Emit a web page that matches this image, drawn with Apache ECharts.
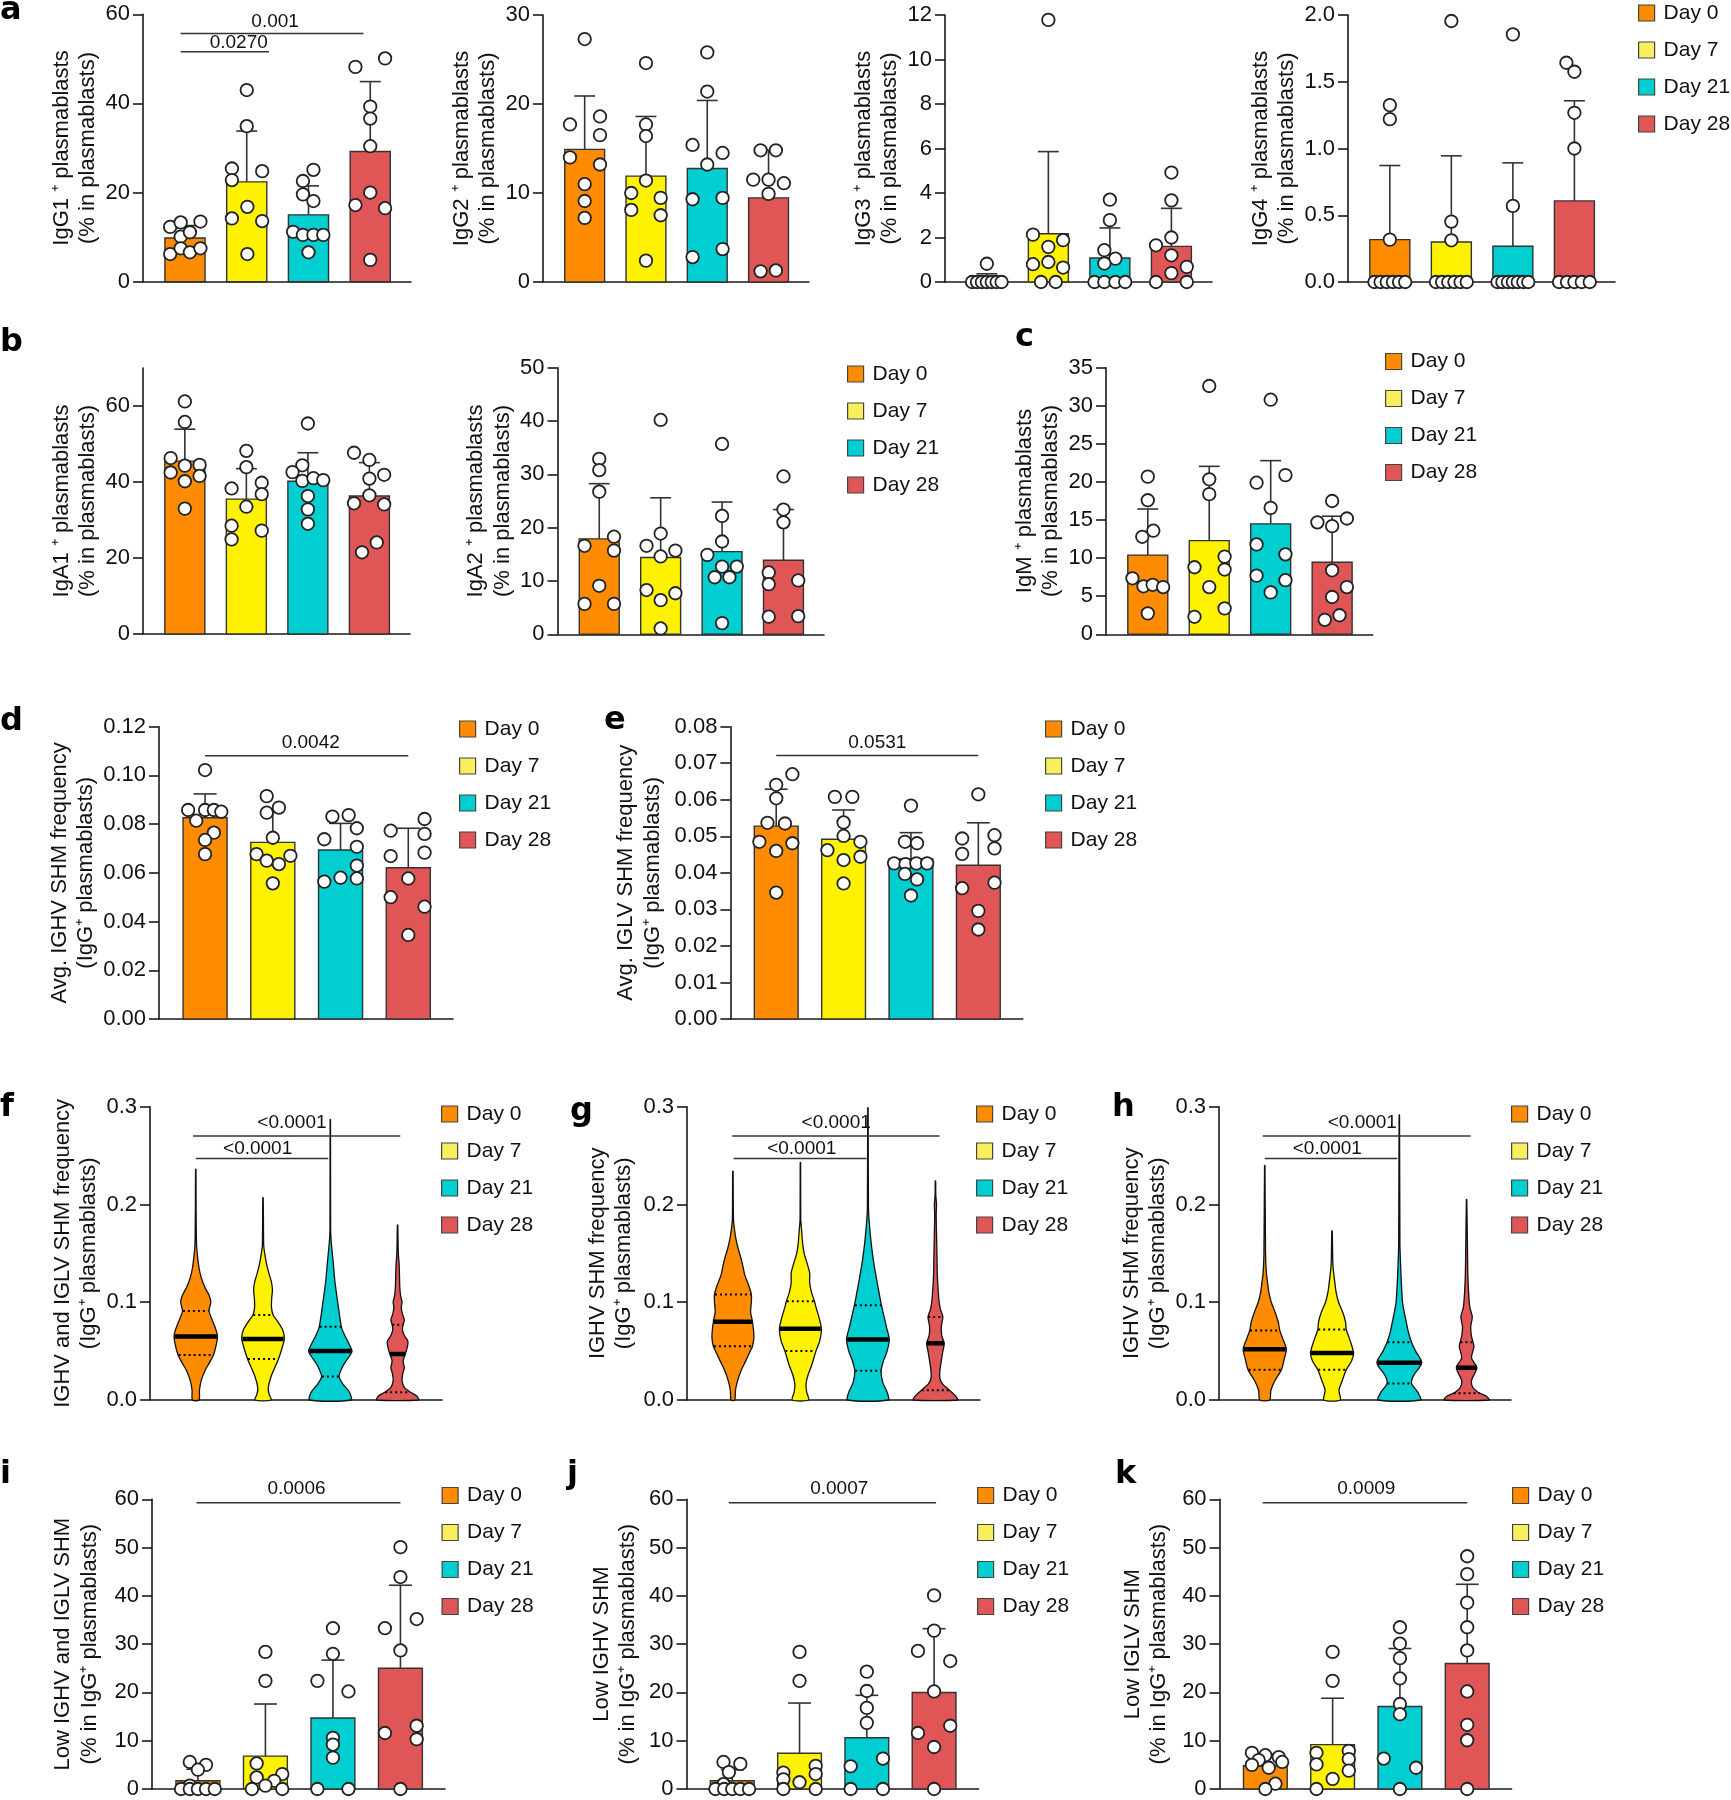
<!DOCTYPE html>
<html><head><meta charset="utf-8">
<script src="https://cdn.jsdelivr.net/npm/echarts@6/dist/echarts.min.js"></script>
<style>html,body{margin:0;padding:0;background:#fff}#c{width:1731px;height:1800px}</style>
</head><body><div id="c"></div>
<script>
// ---------------- DATA ----------------
const DAYS = ['Day 0', 'Day 7', 'Day 21', 'Day 28'];

// a: IgG1
const IGG1_MEAN = [9.8, 22.4, 15.0, 29.2];
const IGG1_SD = [12.6, 33.8, 21.5, 44.9];
const IGG1_PTS = [[12.3,13.3,13.5,10.1,11.1,6.2,7.5,6.6,7.5],[43.0,34.9,25.4,24.8,22.8,16.8,14.2,13.6,6.2],[25.1,22.6,19.6,18.1,11.2,10.5,10.5,10.5,6.6],[48.2,50.1,39.3,36.6,30.4,20.0,17.2,16.5,4.9]];
const IGG1_JIT = [[-0.24,-0.07,0.25,-0.07,0.08,-0.24,-0.07,0.08,0.25],[0,0,-0.24,0.25,-0.24,0.01,-0.24,0.25,0.01],[0.08,-0.09,-0.09,0.08,-0.25,-0.09,0.08,0.24,0],[-0.24,0.24,0,0,0,0,-0.24,0.24,0]];
// [x from, x to, line value, label, label x, label value]
const IGG1_SIG = [[-0.07, 1.36, 51.6, '0.0270', 0.87, 53.6], [-0.07, 2.89, 55.7, '0.001', 1.46, 58.4]];
const IGG1_TICKS = [0, 20, 40, 60];
// IgG2
const IGG2_MEAN = [14.9, 11.9, 12.75, 9.45];
const IGG2_SD = [20.9, 18.6, 20.4, 14.8];
const IGG2_PTS = [[27.3,17.7,18.6,16.5,14.0,13.2,11.0,9.1,7.2],[24.6,17.7,16.4,11.4,10.0,9.45,8.1,7.5,2.4],[25.8,21.4,15.4,14.5,13.2,9.3,9.45,3.7,2.8],[14.8,14.8,11.5,11.5,11.1,9.9,1.2,1.3]];
const IGG2_JIT = [[0,-0.24,0.25,0.25,-0.24,0.25,0,0,0],[0,0,0,0,-0.24,0.24,-0.24,0.24,0],[0,0,-0.24,0.25,0,-0.24,0.25,0.25,-0.24],[-0.13,0.12,-0.25,0,0.25,0,-0.13,0.12]];
const IGG2_TICKS = [0, 10, 20, 30];
// IgG3
const IGG3_MEAN = [0.1, 2.17, 1.08, 1.6];
const IGG3_SD = [0.37, 5.86, 2.43, 3.31];
const IGG3_PTS = [[0.82,0,0,0,0,0,0,0],[11.78,2.13,1.88,1.58,0.9,0.8,0.65,0,0],[3.7,2.78,1.43,1.05,0.83,0,0,0,0],[4.92,3.67,2.0,1.65,1.2,0.68,0.4,0,0]];
const IGG3_JIT = [[0,-0.24,-0.16,-0.08,0,0.08,0.16,0.24],[0,-0.25,0.24,0,0,-0.25,0.24,-0.12,0.12],[0,0,-0.09,0.09,-0.09,-0.25,-0.09,0.09,0.25],[0,0,0,-0.25,0,0.25,0,-0.25,0.25]];
const IGG3_TICKS = [0, 2, 4, 6, 8, 10, 12];
// IgG4
const IGG4_MEAN = [0.3175, 0.30, 0.2675, 0.6075];
const IGG4_SD = [0.8725, 0.945, 0.8925, 1.3575];
const IGG4_PTS = [[1.325,1.22,0.3175,0,0,0,0,0,0],[1.955,0.4525,0.3125,0,0,0,0,0,0],[1.855,0.57,0,0,0,0,0,0,0],[1.6425,1.575,1.2675,1.0,0,0,0,0,0]];
const IGG4_JIT = [[0,0,0,-0.25,-0.15,-0.05,0.05,0.15,0.25],[0,0,0,-0.25,-0.15,-0.05,0.05,0.15,0.25],[0,0,-0.25,-0.17,-0.08,0,0.08,0.17,0.25],[-0.13,0,0,0,-0.25,-0.12,0,0.12,0.25]];
const IGG4_TICKS = [0, 0.5, 1, 1.5, 2];
// b: IgA1
const IGA1_MEAN = [45.5, 35.5, 40.2, 36.3];
const IGA1_SD = [53.9, 43.5, 47.7, 45.1];
const IGA1_PTS = [[61.2,55.8,46.3,44.5,44.3,42.5,41.6,40.2,33.0],[48.2,43.9,38.3,39.8,36.8,33.5,28.5,27.2,24.9],[55.4,44.4,42.6,40.3,41.0,40.5,36.3,32.8,29.0],[47.7,45.8,40.9,41.9,36.5,34.4,34.1,24.1,21.5]];
const IGA1_JIT = [[0,0,-0.23,0.24,0,-0.23,0.24,0,0],[0,0,-0.24,0.25,0.25,0,-0.24,0.25,-0.24],[0,-0.09,-0.25,-0.09,0.09,0.25,0,0,0],[-0.25,0,0,0.24,0,-0.25,0.24,0.12,-0.12]];
const IGA1_TICKS = [0, 20, 40, 60];
// IgA2
const IGA2_MEAN = [17.9, 14.4, 15.5, 13.9];
const IGA2_SD = [28.25, 25.6, 24.8, 23.4];
const IGA2_PTS = [[32.9,30.8,26.75,16.6,18.3,15.7,9.1,5.7,5.7],[40.2,18.9,16.6,15.7,14.6,8.3,7.7,6.4,1.1],[35.7,22.2,17.4,14.9,12.7,12.7,10.7,10.7,2.1],[29.6,23.4,21.0,11.6,9.4,10.1,3.3,3.4]];
const IGA2_JIT = [[0,0,0,-0.24,0.24,0.24,0,-0.24,0.24],[0,0,-0.23,0.24,0,-0.23,0.24,0,0],[0,0,0,-0.24,0,0.24,-0.12,0.12,0],[0,0,0,-0.24,-0.24,0.24,-0.24,0.24]];
const IGA2_TICKS = [0, 10, 20, 30, 40, 50];
// c: IgM
const IGM_MEAN = [10.4, 12.3, 14.5, 9.45];
const IGM_SD = [16.45, 22.05, 22.8, 15.5];
const IGM_PTS = [[20.7,17.6,13.6,12.8,7.35,6.3,6.5,6.2,2.75],[32.6,20.35,18.4,10.2,8.5,8.8,6.2,3.4,2.3],[30.8,19.9,20.9,16.6,11.8,10.5,7.7,7.1,5.5],[17.5,14.7,15.2,14.2,8.4,6.2,4.9,2.5,1.9]];
const IGM_JIT = [[0,0,0.09,-0.09,-0.25,-0.07,0.08,0.25,0],[0,0,0,0.25,0.25,-0.24,0,0.25,-0.24],[0,-0.23,0.24,0,-0.23,0.24,-0.23,0.24,0],[0,-0.24,0.24,0,0,0.24,0,0.12,-0.12]];
const IGM_TICKS = [0, 5, 10, 15, 20, 25, 30, 35];
// d: avg IGHV SHM
const SHMH_MEAN = [0.0826, 0.0725, 0.0694, 0.0621];
const SHMH_SD = [0.0924, 0.0863, 0.0803, 0.0783];
const SHMH_PTS = [[0.1022,0.0858,0.0858,0.0858,0.0851,0.0814,0.0765,0.0735,0.0677],[0.0915,0.0868,0.0847,0.0744,0.0677,0.065,0.067,0.0636,0.0557],[0.0831,0.0837,0.0783,0.0738,0.0707,0.063,0.0564,0.058,0.0577],[0.0773,0.0821,0.076,0.0669,0.0683,0.0577,0.05,0.0461,0.0345]];
const SHMH_JIT = [[0,-0.25,0,0.13,0.24,-0.13,0.13,0,0],[-0.09,0.09,-0.09,0,-0.24,-0.09,0.26,0.09,0],[-0.12,0.12,0.24,-0.24,0.24,0.24,-0.24,0,0.24],[-0.26,0.24,0.24,-0.26,0.24,0,-0.26,0.24,0]];
const SHMH_SIG = [[0, 3, 0.1081, '0.0042', 1.56, 0.1133]];
const SHMH_TICKS = [0, 0.02, 0.04, 0.06, 0.08, 0.10, 0.12];
// e: avg IGLV SHM
const SHML_MEAN = [0.0528, 0.0492, 0.0438, 0.0421];
const SHML_SD = [0.0629, 0.0572, 0.051, 0.0537];
const SHML_PTS = [[0.067,0.0641,0.0604,0.0537,0.0535,0.0485,0.0481,0.046,0.0346],[0.0608,0.0608,0.0538,0.0501,0.0485,0.0462,0.0435,0.0444,0.0371],[0.0584,0.0485,0.0481,0.0426,0.0424,0.0426,0.0426,0.0397,0.0382,0.0338],[0.0615,0.0494,0.0503,0.0467,0.0452,0.0373,0.0358,0.0296,0.0245]];
const SHML_JIT = [[0.24,0,0,-0.13,0.13,-0.25,0.24,0,0],[-0.13,0.13,0,0,0.25,-0.24,0,0.25,0],[0,-0.09,0.09,-0.25,-0.08,0.08,0.24,-0.09,0.09,0],[0,-0.24,0.24,0.24,-0.24,0.24,-0.24,0,0]];
const SHML_SIG = [[0, 3, 0.0721, '0.0531', 1.5, 0.0755]];
const SHML_TICKS = [0, 0.01, 0.02, 0.03, 0.04, 0.05, 0.06, 0.07, 0.08];
// f, g, h: violins  [value, half width in category units]
const VF_PROFILE = [
  [[0,0.049],[0.01,0.055],[0.02,0.082],[0.03,0.137],[0.04,0.219],[0.046,0.263],[0.055,0.3],[0.065,0.323],[0.072,0.3],[0.08,0.255],[0.091,0.197],[0.1,0.224],[0.107,0.2],[0.115,0.137],[0.125,0.082],[0.135,0.049],[0.15,0.022],[0.16,0.011],[0.2,0.005],[0.236,0.003]],
  [[0,0.12],[0.006,0.09],[0.012,0.077],[0.024,0.12],[0.042,0.23],[0.055,0.29],[0.063,0.317],[0.072,0.29],[0.08,0.22],[0.087,0.15],[0.095,0.125],[0.105,0.13],[0.113,0.14],[0.122,0.12],[0.13,0.085],[0.14,0.05],[0.15,0.025],[0.158,0.01],[0.207,0.003]],
  [[0,0.307],[0.008,0.285],[0.016,0.19],[0.024,0.13],[0.035,0.19],[0.045,0.285],[0.05,0.323],[0.058,0.274],[0.067,0.208],[0.075,0.164],[0.09,0.13],[0.1,0.11],[0.12,0.07],[0.14,0.044],[0.16,0.016],[0.175,0.005],[0.287,0.003]],
  [[0,0.312],[0.004,0.285],[0.008,0.19],[0.013,0.1],[0.02,0.066],[0.027,0.077],[0.033,0.1],[0.04,0.082],[0.047,0.115],[0.055,0.148],[0.06,0.153],[0.066,0.1],[0.072,0.071],[0.077,0.082],[0.082,0.1],[0.088,0.071],[0.095,0.055],[0.1,0.066],[0.107,0.044],[0.115,0.033],[0.13,0.027],[0.14,0.022],[0.15,0.011],[0.179,0.003]]
];
const VF_QUART = [[0.046,0.065,0.091],[0.042,0.0625,0.087],[0.024,0.050,0.075],[0.008,0.047,0.077]];
const VF_SIG = [[0, 1.97, 0.247, '<0.0001', 0.92, 0.2567], [-0.04, 3.04, 0.27, '<0.0001', 1.43, 0.2833]];
const VG_PROFILE = [
  [[0,0.027],[0.01,0.038],[0.02,0.071],[0.03,0.12],[0.04,0.19],[0.05,0.257],[0.055,0.29],[0.065,0.311],[0.08,0.29],[0.09,0.262],[0.1,0.273],[0.108,0.273],[0.118,0.23],[0.128,0.175],[0.137,0.148],[0.145,0.12],[0.155,0.077],[0.165,0.044],[0.175,0.022],[0.185,0.008],[0.234,0.003]],
  [[0,0.12],[0.008,0.093],[0.016,0.082],[0.025,0.11],[0.035,0.164],[0.05,0.23],[0.06,0.284],[0.073,0.311],[0.085,0.273],[0.095,0.23],[0.101,0.208],[0.11,0.164],[0.12,0.137],[0.13,0.137],[0.14,0.098],[0.15,0.055],[0.16,0.033],[0.175,0.016],[0.185,0.005],[0.243,0.003]],
  [[0,0.3],[0.008,0.284],[0.018,0.219],[0.03,0.195],[0.04,0.23],[0.05,0.284],[0.062,0.317],[0.075,0.273],[0.085,0.24],[0.097,0.2],[0.11,0.164],[0.12,0.137],[0.14,0.087],[0.16,0.049],[0.18,0.022],[0.195,0.008],[0.299,0.003]],
  [[0,0.328],[0.004,0.3],[0.01,0.208],[0.016,0.11],[0.022,0.066],[0.03,0.066],[0.04,0.087],[0.05,0.11],[0.058,0.131],[0.066,0.093],[0.075,0.087],[0.085,0.11],[0.092,0.077],[0.1,0.055],[0.115,0.038],[0.13,0.027],[0.15,0.022],[0.17,0.016],[0.19,0.011],[0.2,0.016],[0.21,0.005],[0.224,0.003]]
];
const VG_QUART = [[0.055,0.080,0.108],[0.050,0.073,0.101],[0.030,0.062,0.097],[0.010,0.058,0.085]];
const VG_SIG = [[0.01, 1.98, 0.247, '<0.0001', 1.02, 0.2567], [-0.01, 3.06, 0.27, '<0.0001', 1.53, 0.2833]];
const VH_PROFILE = [
  [[0,0.073],[0.01,0.091],[0.02,0.152],[0.031,0.248],[0.042,0.29],[0.052,0.321],[0.062,0.273],[0.071,0.224],[0.08,0.2],[0.09,0.152],[0.1,0.097],[0.11,0.061],[0.12,0.042],[0.13,0.024],[0.15,0.012],[0.24,0.003]],
  [[0,0.121],[0.01,0.103],[0.02,0.152],[0.031,0.212],[0.04,0.29],[0.048,0.321],[0.06,0.273],[0.072,0.212],[0.08,0.2],[0.09,0.158],[0.1,0.097],[0.11,0.061],[0.12,0.042],[0.13,0.024],[0.14,0.012],[0.173,0.003]],
  [[0,0.315],[0.008,0.273],[0.017,0.182],[0.025,0.212],[0.038,0.333],[0.05,0.242],[0.059,0.182],[0.07,0.133],[0.08,0.103],[0.09,0.073],[0.1,0.048],[0.12,0.03],[0.14,0.018],[0.16,0.009],[0.2915,0.003]],
  [[0,0.333],[0.004,0.29],[0.008,0.17],[0.013,0.091],[0.02,0.073],[0.033,0.152],[0.043,0.073],[0.055,0.109],[0.065,0.073],[0.075,0.061],[0.085,0.085],[0.095,0.048],[0.11,0.03],[0.13,0.018],[0.16,0.012],[0.205,0.003]]
];
const VH_QUART = [[0.031,0.052,0.071],[0.031,0.048,0.072],[0.017,0.038,0.059],[0.007,0.033,0.059]];
const VH_SIG = [[0, 1.97, 0.247, '<0.0001', 0.93, 0.2567], [-0.03, 3.06, 0.27, '<0.0001', 1.45, 0.2833]];
const VIOLIN_TICKS = [0, 0.1, 0.2, 0.3];
// i: low IGHV and IGLV SHM
const LOWHL_MEAN = [1.7, 6.8, 14.7, 25.0];
const LOWHL_SD = [4.1, 17.6, 26.7, 42.2];
const LOWHL_PTS = [[5.6,5.0,4.0,0.7,0,0,0,0,0],[28.4,22.4,5.3,3.1,2.4,1.7,0.7,0,0],[33.3,28.0,22.4,20.2,10.6,9.2,6.5,0,0],[50.1,43.9,33.3,35.2,28.7,11.6,13.1,10.3,0]];
const LOWHL_JIT = [[-0.12,0.12,0,-0.12,-0.25,-0.12,0,0.12,0.25],[0,0,-0.13,0.25,-0.13,0.13,0,-0.2,0.25],[0,0,-0.23,0.23,0,0,0,-0.23,0.23],[0,0,-0.23,0.24,0,-0.23,0.24,0.24,0]];
const LOWHL_SIG = [[-0.02, 3.0, 59.3, '0.0006', 1.46, 62.1]];
// j: low IGHV SHM
const LOWH_MEAN = [1.7, 7.4, 10.6, 20.0];
const LOWH_SD = [4.0, 17.8, 19.4, 33.2];
const LOWH_PTS = [[5.6,5.2,3.5,1.0,0,0,0,0,0],[28.4,22.4,4.8,3.4,3.1,2.0,1.4,0,0],[24.3,20.3,16.8,13.7,6.3,4.7,0,0],[40.1,32.8,28.6,26.5,20.2,11.6,13.1,8.7,0]];
const LOWH_JIT = [[-0.13,0.12,-0.05,-0.13,-0.25,-0.12,0,0.12,0.25],[0,0,0.24,-0.24,0.24,-0.24,0,-0.24,0.24],[0,0,0,0,0.24,-0.24,-0.24,0.24],[0,0,-0.24,0.24,0,-0.24,0.24,0,0]];
const LOWH_SIG = [[-0.05, 3.03, 59.3, '0.0007', 1.59, 62.1]];
// k: low IGLV SHM
const LOWL_MEAN = [4.8, 9.2, 17.1, 26.0];
const LOWL_SD = [7.2, 18.8, 29.1, 42.4];
const LOWL_PTS = [[7.5,7.0,6.6,6.0,5.6,5.0,4.4,1.1,0],[28.4,22.4,7.9,7.5,6.2,5.1,3.8,2.1,0],[33.5,30.1,27.1,22.9,17.6,15.5,6.3,4.4,0],[48.2,44.5,38.6,33.5,28.7,20.2,13.3,10.1,0]];
const LOWL_JIT = [[-0.2,0,0.2,-0.1,0.25,-0.2,0.05,0.15,0],[0,0,0.24,-0.24,0.24,-0.24,0.24,0,-0.24],[0,0,0,0,0,0,-0.24,0.24,0],[0,0,0,0,0,0,0,0,0]];
const LOWL_SIG = [[-0.04, 3.0, 59.3, '0.0009', 1.5, 62.1]];
const LOW_TICKS = [0, 10, 20, 30, 40, 50, 60];

// ---------------- STYLE / LAYOUT ----------------
const FONT = '"Liberation Sans", Arial, Helvetica, sans-serif';
const FILL = ['#FF8C00', '#FFF200', '#00CED1', '#E05656'];
const LEGEND_FILL = ['#FF8C00', '#F8EF5E', '#00CED1', '#E05656'];
const INK = '#1a1a1a';
const X_MIN = -0.68, X_MAX = 3.66;
const BAR_HALF = 0.325, CAP_HALF = 0.17;

const grids = [], xAxes = [], yAxes = [], series = [], legends = [], graphics = [];

function addAxes(p) {
  const gi = grids.length;
  grids.push({left: p.rect[0], top: p.rect[1], width: p.rect[2], height: p.rect[3], containLabel: false});
  xAxes.push({gridIndex: gi, type: 'value', min: X_MIN, max: X_MAX,
    axisLine: {onZero: false, lineStyle: {color: INK, width: 1.6}},
    axisTick: {show: false}, axisLabel: {show: false}, splitLine: {show: false}});
  yAxes.push({gridIndex: gi, type: 'value', min: 0, max: p.max, interval: p.ticks[1] - p.ticks[0],
    axisLine: {show: true, onZero: false, lineStyle: {color: INK, width: 1.6}},
    axisTick: {show: true, length: 10, customValues: p.ticks, lineStyle: {color: INK, width: 1.6}},
    axisLabel: {show: true, fontSize: 22, color: '#111', fontFamily: FONT, margin: 13, customValues: p.ticks,
      formatter: v => p.dec != null ? Number(v).toFixed(p.dec) : String(v)},
    splitLine: {show: false},
    name: p.name, nameLocation: 'middle', nameGap: p.gap - 3,
    nameTextStyle: {fontSize: 22, lineHeight: 26.5, color: '#111', fontFamily: FONT, align: 'center', verticalAlign: 'middle'}});
  return gi;
}

function barPanel(gi, mean, sd, pts, jit) {
  series.push({type: 'custom', xAxisIndex: gi, yAxisIndex: gi, z: 2, clip: false,
    data: mean.map((m, i) => [i, m]),
    renderItem(params, api) {
      const i = api.value(0), m = api.value(1);
      const p1 = api.coord([i - BAR_HALF, m]), p2 = api.coord([i + BAR_HALF, 0]);
      return {type: 'rect', shape: {x: p1[0], y: p1[1], width: p2[0] - p1[0], height: p2[1] - p1[1]},
        style: {fill: FILL[i], stroke: '#333', lineWidth: 1.4}};
    }});
  series.push({type: 'custom', xAxisIndex: gi, yAxisIndex: gi, z: 3, clip: false,
    data: sd.map((s, i) => [i, mean[i], s]),
    renderItem(params, api) {
      const i = api.value(0), m = api.value(1), s = api.value(2);
      const a = api.coord([i, m]), b = api.coord([i, s]);
      const c1 = api.coord([i - CAP_HALF, s]), c2 = api.coord([i + CAP_HALF, s]);
      return {type: 'group', children: [
        {type: 'line', shape: {x1: a[0], y1: a[1], x2: b[0], y2: b[1]}, style: {stroke: '#333', lineWidth: 1.6}},
        {type: 'line', shape: {x1: c1[0], y1: c1[1], x2: c2[0], y2: c2[1]}, style: {stroke: '#333', lineWidth: 1.6}}
      ]};
    }});
  const dots = [];
  pts.forEach((vals, d) => vals.forEach((v, k) => dots.push([d + jit[d][k], v])));
  series.push({type: 'scatter', xAxisIndex: gi, yAxisIndex: gi, z: 4, clip: false, data: dots,
    symbol: 'circle', symbolSize: 12.5,
    itemStyle: {color: '#fff', borderColor: '#222', borderWidth: 1.8, opacity: 1}});
}

function interpWidth(profile, v) {
  for (let k = 1; k < profile.length; k++) {
    if (v <= profile[k][0]) {
      const [v0, w0] = profile[k - 1], [v1, w1] = profile[k];
      return w0 + (w1 - w0) * (v - v0) / (v1 - v0);
    }
  }
  return profile[profile.length - 1][1];
}

function violinPanel(gi, profiles, quarts) {
  series.push({type: 'custom', xAxisIndex: gi, yAxisIndex: gi, z: 2, clip: false,
    data: quarts.map((q, i) => [i, q[1]]),
    renderItem(params, api) {
      const d = params.dataIndex, prof = profiles[d], q = quarts[d];
      const right = prof.map(([v, w]) => api.coord([d + w, v]));
      const left = prof.slice().reverse().map(([v, w]) => api.coord([d - w, v]));
      const children = [{type: 'polygon', shape: {points: right.concat(left), smooth: 0.25},
        style: {fill: FILL[d], stroke: '#111', lineWidth: 1.3}}];
      q.forEach((val, k) => {
        const w = interpWidth(prof, val) * 0.97;
        const a = api.coord([d - w, val]), b = api.coord([d + w, val]);
        children.push({type: 'line', shape: {x1: a[0], y1: a[1], x2: b[0], y2: b[1]},
          style: k === 1 ? {stroke: '#000', lineWidth: 4.5} : {stroke: '#000', lineWidth: 2, lineDash: [2, 3]}});
      });
      return {type: 'group', children};
    }});
}

function sigBrackets(gi, sig) {
  series.push({type: 'custom', xAxisIndex: gi, yAxisIndex: gi, z: 5, clip: false,
    data: sig.map(s => [s[0], s[2]]),
    renderItem(params, api) {
      const s = sig[params.dataIndex];
      const a = api.coord([s[0], s[2]]), b = api.coord([s[1], s[2]]), t = api.coord([s[4], s[5]]);
      return {type: 'group', children: [
        {type: 'line', shape: {x1: a[0], y1: a[1], x2: b[0], y2: b[1]}, style: {stroke: '#333', lineWidth: 1.5}},
        {type: 'text', x: t[0], y: t[1], style: {text: s[3], font: '19px ' + FONT, fill: '#111', align: 'center', verticalAlign: 'middle'}}
      ]};
    }});
}

function addLegend(left, top) {
  legends.push({left, top: top + 2.5, orient: 'vertical', padding: 0, itemWidth: 16, itemHeight: 16, itemGap: 16,
    icon: 'rect', selectedMode: false,
    textStyle: {fontSize: 21, lineHeight: 21, color: '#111', fontFamily: FONT, padding: [0, 0, 0, 4]},
    data: DAYS.map((d, i) => ({name: d, itemStyle: {color: LEGEND_FILL[i], borderColor: '#444', borderWidth: 1.2}}))});
}

function letter(t, x, y) {
  graphics.push({type: 'text', x, y, style: {text: t, font: 'bold 32px "DejaVu Sans", Arial, sans-serif', fill: '#000', align: 'left', verticalAlign: 'middle'}});
}

const SUB = '(% in plasmablasts)';
const IGG = '(IgG⁺ plasmablasts)';
const PIGG = '(% in IgG⁺ plasmablasts)';

// row a   (gap = distance from axis line to the centre of the two-line title)
let g;
g = addAxes({rect: [143, 14.3, 268, 267.4], max: 60, ticks: IGG1_TICKS, name: 'IgG1 ⁺ plasmablasts\n' + SUB, gap: 64.5});
barPanel(g, IGG1_MEAN, IGG1_SD, IGG1_PTS, IGG1_JIT); sigBrackets(g, IGG1_SIG);
g = addAxes({rect: [543, 15, 266, 267], max: 30, ticks: IGG2_TICKS, name: 'IgG2 ⁺ plasmablasts\n' + SUB, gap: 64});
barPanel(g, IGG2_MEAN, IGG2_SD, IGG2_PTS, IGG2_JIT);
g = addAxes({rect: [945, 15, 267, 267], max: 12, ticks: IGG3_TICKS, name: 'IgG3 ⁺ plasmablasts\n' + SUB, gap: 65});
barPanel(g, IGG3_MEAN, IGG3_SD, IGG3_PTS, IGG3_JIT);
g = addAxes({rect: [1348, 15, 267, 267], max: 2, ticks: IGG4_TICKS, dec: 1, name: 'IgG4 ⁺ plasmablasts\n' + SUB, gap: 70});
barPanel(g, IGG4_MEAN, IGG4_SD, IGG4_PTS, IGG4_JIT);
addLegend(1638, 0);
letter('a', 0, 11);

// row b / c
g = addAxes({rect: [143, 368, 267, 266], max: 70, ticks: IGA1_TICKS, name: 'IgA1 ⁺ plasmablasts\n' + SUB, gap: 68});
barPanel(g, IGA1_MEAN, IGA1_SD, IGA1_PTS, IGA1_JIT);
g = addAxes({rect: [557.5, 367.7, 266.5, 266.6], max: 50, ticks: IGA2_TICKS, name: 'IgA2 ⁺ plasmablasts\n' + SUB, gap: 66});
barPanel(g, IGA2_MEAN, IGA2_SD, IGA2_PTS, IGA2_JIT);
addLegend(847, 361);
g = addAxes({rect: [1106, 367.7, 266.7, 266.6], max: 35, ticks: IGM_TICKS, name: 'IgM ⁺ plasmablasts\n' + SUB, gap: 65});
barPanel(g, IGM_MEAN, IGM_SD, IGM_PTS, IGM_JIT);
addLegend(1385, 348.5);
letter('b', 0, 343); letter('c', 1015, 338);

// row d / e
g = addAxes({rect: [159, 726.7, 294, 292.3], max: 0.12, ticks: SHMH_TICKS, dec: 2, name: 'Avg. IGHV SHM frequency\n' + IGG, gap: 88});
barPanel(g, SHMH_MEAN, SHMH_SD, SHMH_PTS, SHMH_JIT); sigBrackets(g, SHMH_SIG);
addLegend(459, 716);
g = addAxes({rect: [730.4, 726.7, 292.4, 292.3], max: 0.08, ticks: SHML_TICKS, dec: 2, name: 'Avg. IGLV SHM frequency\n' + IGG, gap: 94});
barPanel(g, SHML_MEAN, SHML_SD, SHML_PTS, SHML_JIT); sigBrackets(g, SHML_SIG);
addLegend(1045, 716);
letter('d', 0, 722); letter('e', 604, 721);

// row f / g / h
g = addAxes({rect: [150, 1106.7, 292, 293.3], max: 0.3, ticks: VIOLIN_TICKS, dec: 1, name: 'IGHV and IGLV SHM frequency\n' + IGG, gap: 75});
violinPanel(g, VF_PROFILE, VF_QUART); sigBrackets(g, VF_SIG);
addLegend(441, 1101);
g = addAxes({rect: [687, 1106.7, 293, 293.3], max: 0.3, ticks: VIOLIN_TICKS, dec: 1, name: 'IGHV SHM frequency\n' + IGG, gap: 79});
violinPanel(g, VG_PROFILE, VG_QUART); sigBrackets(g, VG_SIG);
addLegend(976, 1101);
g = addAxes({rect: [1219, 1106.7, 292, 293.3], max: 0.3, ticks: VIOLIN_TICKS, dec: 1, name: 'IGHV SHM frequency\n' + IGG, gap: 74});
violinPanel(g, VH_PROFILE, VH_QUART); sigBrackets(g, VH_SIG);
addLegend(1511, 1101);
letter('f', 0, 1108); letter('g', 570, 1112); letter('h', 1112, 1108);

// row i / j / k
g = addAxes({rect: [152, 1499.3, 293, 292.4], max: 60, ticks: LOW_TICKS, name: 'Low IGHV and IGLV SHM\n' + PIGG, gap: 78.5});
barPanel(g, LOWHL_MEAN, LOWHL_SD, LOWHL_PTS, LOWHL_JIT); sigBrackets(g, LOWHL_SIG);
addLegend(441.5, 1482.5);
g = addAxes({rect: [686.5, 1499.3, 292, 292.4], max: 60, ticks: LOW_TICKS, name: 'Low IGHV SHM\n' + PIGG, gap: 74.5});
barPanel(g, LOWH_MEAN, LOWH_SD, LOWH_PTS, LOWH_JIT); sigBrackets(g, LOWH_SIG);
addLegend(977, 1482.5);
g = addAxes({rect: [1219.6, 1499.3, 292, 292.4], max: 60, ticks: LOW_TICKS, name: 'Low IGLV SHM\n' + PIGG, gap: 76.5});
barPanel(g, LOWL_MEAN, LOWL_SD, LOWL_PTS, LOWL_JIT); sigBrackets(g, LOWL_SIG);
addLegend(1512, 1482.5);
letter('i', 0, 1475); letter('j', 567, 1475); letter('k', 1115, 1475);

// legend carrier series (no marks)
DAYS.forEach((d, i) => series.push({type: 'custom', name: d, xAxisIndex: 0, yAxisIndex: 0, data: [],
  renderItem: () => null, itemStyle: {color: FILL[i], borderColor: '#444', borderWidth: 1.2}}));

const chart = echarts.init(document.getElementById('c'), null, {renderer: 'canvas'});
chart.setOption({
  animation: false,
  backgroundColor: '#fff',
  textStyle: {fontFamily: FONT},
  grid: grids, xAxis: xAxes, yAxis: yAxes, series, legend: legends, graphic: graphics
});
</script></body></html>
